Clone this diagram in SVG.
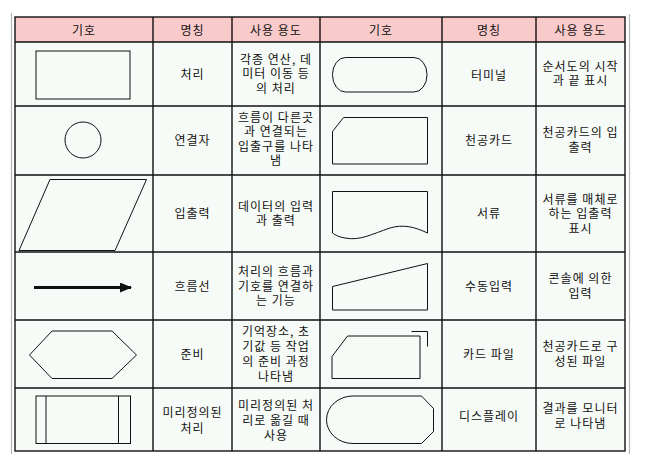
<svg xmlns="http://www.w3.org/2000/svg" width="649" height="464" viewBox="0 0 649 464">
<style>
  .t { font-family: "Noto Sans CJK KR", "Noto Sans", sans-serif; font-size: 12px; letter-spacing: 1px; fill: #111; text-anchor: middle; }
  .grid { stroke: #111; stroke-width: 1.4; fill: none; }
  .sym { stroke: #111; stroke-width: 1; fill: none; }
  .edge { stroke: #b4b4b4; stroke-width: 1.2; }
</style>
<defs>
  <marker id="ah" viewBox="0 0 12 10" refX="11" refY="5" markerWidth="12" markerHeight="10" markerUnits="userSpaceOnUse" orient="auto">
    <path d="M0,0 L12,5 L0,10 Z" fill="#111"/>
  </marker>
</defs>
<rect width="649" height="464" fill="#ffffff"/>
<line class="edge" x1="11.5" y1="13" x2="11.5" y2="454"/>
<line class="edge" x1="629.5" y1="14" x2="629.5" y2="454"/>

<g id="table">
  <rect x="15" y="17" width="610" height="25" fill="#f8caca"/>
  <rect x="15" y="42" width="610" height="409" fill="#f6fbf7"/>
  <g class="grid">
    <rect x="15" y="17" width="610" height="434"/>
    <line x1="153" y1="17" x2="153" y2="451"/>
    <line x1="232" y1="17" x2="232" y2="451"/>
    <line x1="320" y1="17" x2="320" y2="451"/>
    <line x1="442" y1="17" x2="442" y2="451"/>
    <line x1="536" y1="17" x2="536" y2="451"/>
    <line x1="15" y1="42" x2="625" y2="42"/>
    <line x1="15" y1="106" x2="625" y2="106"/>
    <line x1="15" y1="175" x2="625" y2="175"/>
    <line x1="15" y1="252" x2="625" y2="252"/>
    <line x1="15" y1="320" x2="625" y2="320"/>
    <line x1="15" y1="388" x2="625" y2="388"/>
  </g>
</g>

<g id="header">
  <text class="t" x="84" y="34.5">기호</text>
  <text class="t" x="192.5" y="34.5">명칭</text>
  <text class="t" x="276" y="34.5">사용 용도</text>
  <text class="t" x="381" y="34.5">기호</text>
  <text class="t" x="489" y="34.5">명칭</text>
  <text class="t" x="580.5" y="34.5">사용 용도</text>
</g>

<g id="process">
  <rect class="sym" x="36" y="51" width="94" height="48"/>
  <text class="t" x="192.5" y="78.5">처리</text>
  <text class="t" x="276"><tspan x="276" y="63.5">각종 연산, 데</tspan><tspan x="276" y="78">미터 이동 등</tspan><tspan x="276" y="92.5">의 처리</tspan></text>
</g>

<g id="terminal">
  <rect class="sym" x="332.5" y="57.5" width="94.5" height="34.5" rx="13" ry="17"/>
  <text class="t" x="489" y="80">터미널</text>
  <text class="t" x="580.5"><tspan x="580.5" y="70.5">순서도의 시작</tspan><tspan x="580.5" y="85">과 끝 표시</tspan></text>
</g>

<g id="connector">
  <circle class="sym" cx="83" cy="140" r="18"/>
  <text class="t" x="192.5" y="145">연결자</text>
  <text class="t" x="276"><tspan x="276" y="121.5">흐름이 다른곳</tspan><tspan x="276" y="136">과 연결되는</tspan><tspan x="276" y="150.5">입출구를 나타</tspan><tspan x="276" y="165">냄</tspan></text>
</g>

<g id="punched-card">
  <path class="sym" d="M343.5,117.5 L427.5,117.5 L427.5,164 L332.5,164 L332.5,131.5 Z"/>
  <text class="t" x="489" y="145">천공카드</text>
  <text class="t" x="580.5"><tspan x="580.5" y="137">천공카드의 입</tspan><tspan x="580.5" y="151.5">출력</tspan></text>
</g>

<g id="io">
  <path class="sym" d="M50,179.5 L146.5,179.5 L115,250.5 L19,250.5 Z"/>
  <text class="t" x="192.5" y="218">입출력</text>
  <text class="t" x="276"><tspan x="276" y="210.5">데이터의 입력</tspan><tspan x="276" y="225">과 출력</tspan></text>
</g>

<g id="document">
  <path class="sym" d="M332.5,191.5 L427.5,191.5 L427.5,233 C415,227 403,224 390,228 C372,234 360,241 345,238 C339,237 335,235 332.5,233 Z"/>
  <text class="t" x="489" y="218">서류</text>
  <text class="t" x="580.5"><tspan x="580.5" y="203.5">서류를 매체로</tspan><tspan x="580.5" y="218">하는 입출력</tspan><tspan x="580.5" y="232.5">표시</tspan></text>
</g>

<g id="flowline">
  <line x1="34" y1="287.5" x2="131" y2="287.5" stroke="#111" stroke-width="3" marker-end="url(#ah)"/>
  <text class="t" x="192.5" y="290.5">흐름선</text>
  <text class="t" x="276"><tspan x="276" y="276">처리의 흐름과</tspan><tspan x="276" y="290.5">기호를 연결하</tspan><tspan x="276" y="305">는 기능</tspan></text>
</g>

<g id="manual-input">
  <path class="sym" d="M332.5,286.5 L427.5,263.5 L427.5,310 L332.5,310 Z"/>
  <text class="t" x="489" y="290.5">수동입력</text>
  <text class="t" x="580.5"><tspan x="580.5" y="283">콘솔에 의한</tspan><tspan x="580.5" y="297.5">입력</tspan></text>
</g>

<g id="preparation">
  <path class="sym" d="M29.5,355 L52,331 L112,331 L136.5,355 L112,378.5 L52,378.5 Z"/>
  <text class="t" x="192.5" y="358.5">준비</text>
  <text class="t" x="276"><tspan x="276" y="336">기억장소, 초</tspan><tspan x="276" y="351">기값 등 작업</tspan><tspan x="276" y="366">의 준비 과정</tspan><tspan x="276" y="381">나타냄</tspan></text>
</g>

<g id="card-file">
  <path class="sym" d="M347.5,336 L420,336 L420,378.5 L332,378.5 L332,356.5 Z"/>
  <path class="sym" d="M411.5,331.5 L427.5,331.5 L427.5,346.5"/>
  <text class="t" x="489" y="358.5">카드 파일</text>
  <text class="t" x="580.5"><tspan x="580.5" y="351">천공카드로 구</tspan><tspan x="580.5" y="366">성된 파일</tspan></text>
</g>

<g id="predefined-process">
  <rect class="sym" x="36" y="396" width="94.5" height="47.5"/>
  <line class="sym" x1="46" y1="396" x2="46" y2="443.5"/>
  <line class="sym" x1="118.5" y1="396" x2="118.5" y2="443.5"/>
  <text class="t" x="192.5"><tspan x="192.5" y="416.5">미리정의된</tspan><tspan x="192.5" y="432.5">처리</tspan></text>
  <text class="t" x="276"><tspan x="276" y="409.5">미리정의된 처</tspan><tspan x="276" y="424.5">리로 옮길 때</tspan><tspan x="276" y="439.5">사용</tspan></text>
</g>

<g id="display">
  <path class="sym" d="M353,396 L421.5,396 L433.5,408.5 L433.5,431.5 L421.5,443.5 L353,443.5 A26.5,23.75 0 0 1 353,396 Z"/>
  <text class="t" x="489" y="420.5">디스플레이</text>
  <text class="t" x="580.5"><tspan x="580.5" y="413">결과를 모니터</tspan><tspan x="580.5" y="428">로 나타냄</tspan></text>
</g>
</svg>
